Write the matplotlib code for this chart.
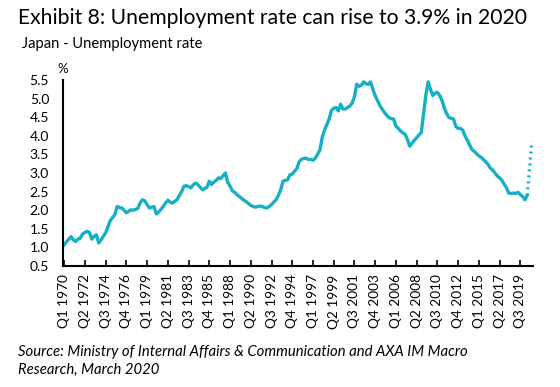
import numpy as np
import matplotlib.pyplot as plt

# Japan unemployment rate, quarterly from Q1 1970
rate = [
    1.07, 1.15, 1.22, 1.29, 1.20, 1.16, 1.22, 1.25, 1.36, 1.40,
    1.43, 1.40, 1.22, 1.30, 1.34, 1.12, 1.20, 1.30, 1.39, 1.55,
    1.72, 1.80, 1.88, 2.10, 2.07, 2.06, 2.00, 1.93, 1.97, 2.01,
    2.00, 2.02, 2.05, 2.20, 2.28, 2.25, 2.15, 2.06, 2.08, 2.10,
    1.90, 1.95, 2.02, 2.10, 2.19, 2.27, 2.22, 2.19, 2.24, 2.28,
    2.40, 2.50, 2.64, 2.66, 2.63, 2.60, 2.68, 2.73, 2.69, 2.62,
    2.55, 2.58, 2.62, 2.78, 2.69, 2.76, 2.80, 2.87, 2.85, 2.93,
    3.00, 2.75, 2.65, 2.52, 2.48, 2.42, 2.37, 2.32, 2.27, 2.23,
    2.18, 2.13, 2.10, 2.08, 2.10, 2.11, 2.10, 2.07, 2.06, 2.10,
    2.15, 2.22, 2.28, 2.40, 2.55, 2.78, 2.80, 2.82, 2.95, 2.97,
    3.05, 3.12, 3.30, 3.37, 3.39, 3.40, 3.36, 3.37, 3.34, 3.40,
    3.50, 3.62, 3.95, 4.15, 4.30, 4.45, 4.68, 4.74, 4.76, 4.67,
    4.85, 4.72, 4.72, 4.76, 4.80, 4.88, 5.05, 5.39, 5.33, 5.36,
    5.45, 5.40, 5.38, 5.45, 5.25, 5.08, 4.95, 4.82, 4.72, 4.63,
    4.55, 4.49, 4.46, 4.45, 4.26, 4.20, 4.13, 4.08, 4.04, 3.90,
    3.72, 3.80, 3.88, 3.95, 4.02, 4.09, 4.60, 5.10, 5.45, 5.25,
    5.08, 5.15, 5.17, 5.08, 4.95, 4.75, 4.60, 4.49, 4.47, 4.45,
    4.25, 4.20, 4.20, 4.15, 4.00, 3.88, 3.75, 3.63, 3.58, 3.52,
    3.46, 3.42, 3.36, 3.30, 3.23, 3.13, 3.08, 3.00, 2.92, 2.87,
    2.80, 2.70, 2.60, 2.46, 2.45, 2.46, 2.45, 2.48, 2.42, 2.37,
    2.28, 2.40,
]
forecast = [2.40, 3.10, 3.85]

tick_labels = ["Q1 1970", "Q2 1972", "Q3 1974", "Q4 1976", "Q1 1979", "Q2 1981",
               "Q3 1983", "Q4 1985", "Q1 1988", "Q2 1990", "Q3 1992", "Q4 1994",
               "Q1 1997", "Q2 1999", "Q3 2001", "Q4 2003", "Q1 2006", "Q2 2008",
               "Q3 2010", "Q4 2012", "Q1 2015", "Q2 2017", "Q3 2019"]

plt.rcParams["font.family"] = ["Lato", "DejaVu Sans"]

fig = plt.figure(figsize=(5.6, 3.87), dpi=100)
ax = fig.add_axes([63 / 560, 1 - 266 / 387, 470 / 560, 186 / 387])

color = "#17AFC5"
x = np.arange(len(rate))
xf = np.arange(len(rate) - 1, len(rate) - 1 + len(forecast))
ax.plot(x, rate, color=color, lw=2.4, solid_joinstyle="round")
ax.plot(xf, forecast, color=color, lw=2.4, linestyle=(0, (0.6, 1.2)))

ax.set_xlim(-0.5, 203.5)
ax.set_ylim(0.5, 5.5)
ax.set_yticks(np.arange(0.5, 5.51, 0.5))
ax.set_yticklabels([f"{v:.1f}" for v in np.arange(0.5, 5.51, 0.5)], fontsize=10)
ax.set_xticks(np.arange(0, 9 * len(tick_labels), 9))
ax.set_xticklabels(tick_labels, rotation=90, fontsize=9.8)

for s in ["top", "right"]:
    ax.spines[s].set_visible(False)
for s in ["left", "bottom"]:
    ax.spines[s].set_linewidth(1.5)
ax.tick_params(axis="x", direction="in", length=4, width=1.2, pad=6)
ax.tick_params(axis="y", direction="in", length=0, pad=10)

fig.text(18 / 560, 1 - 18 / 387, "Exhibit 8: Unemployment rate can rise to 3.9% in 2020",
         fontsize=15.2, va="center", ha="left")
fig.text(22 / 560, 1 - 44 / 387, "Japan - Unemployment rate", fontsize=10.6,
         va="center", ha="left")
fig.text(63 / 560, 1 - 69 / 387, "%", fontsize=9.5, va="center", ha="center")
fig.text(18 / 560, 1 - 352 / 387,
         "Source: Ministry of Internal Affairs & Communication and AXA IM Macro",
         fontsize=10.7, style="italic", va="center", ha="left")
fig.text(18 / 560, 1 - 370 / 387, "Research, March 2020",
         fontsize=10.7, style="italic", va="center", ha="left")

fig.savefig("out.png", dpi=100)
